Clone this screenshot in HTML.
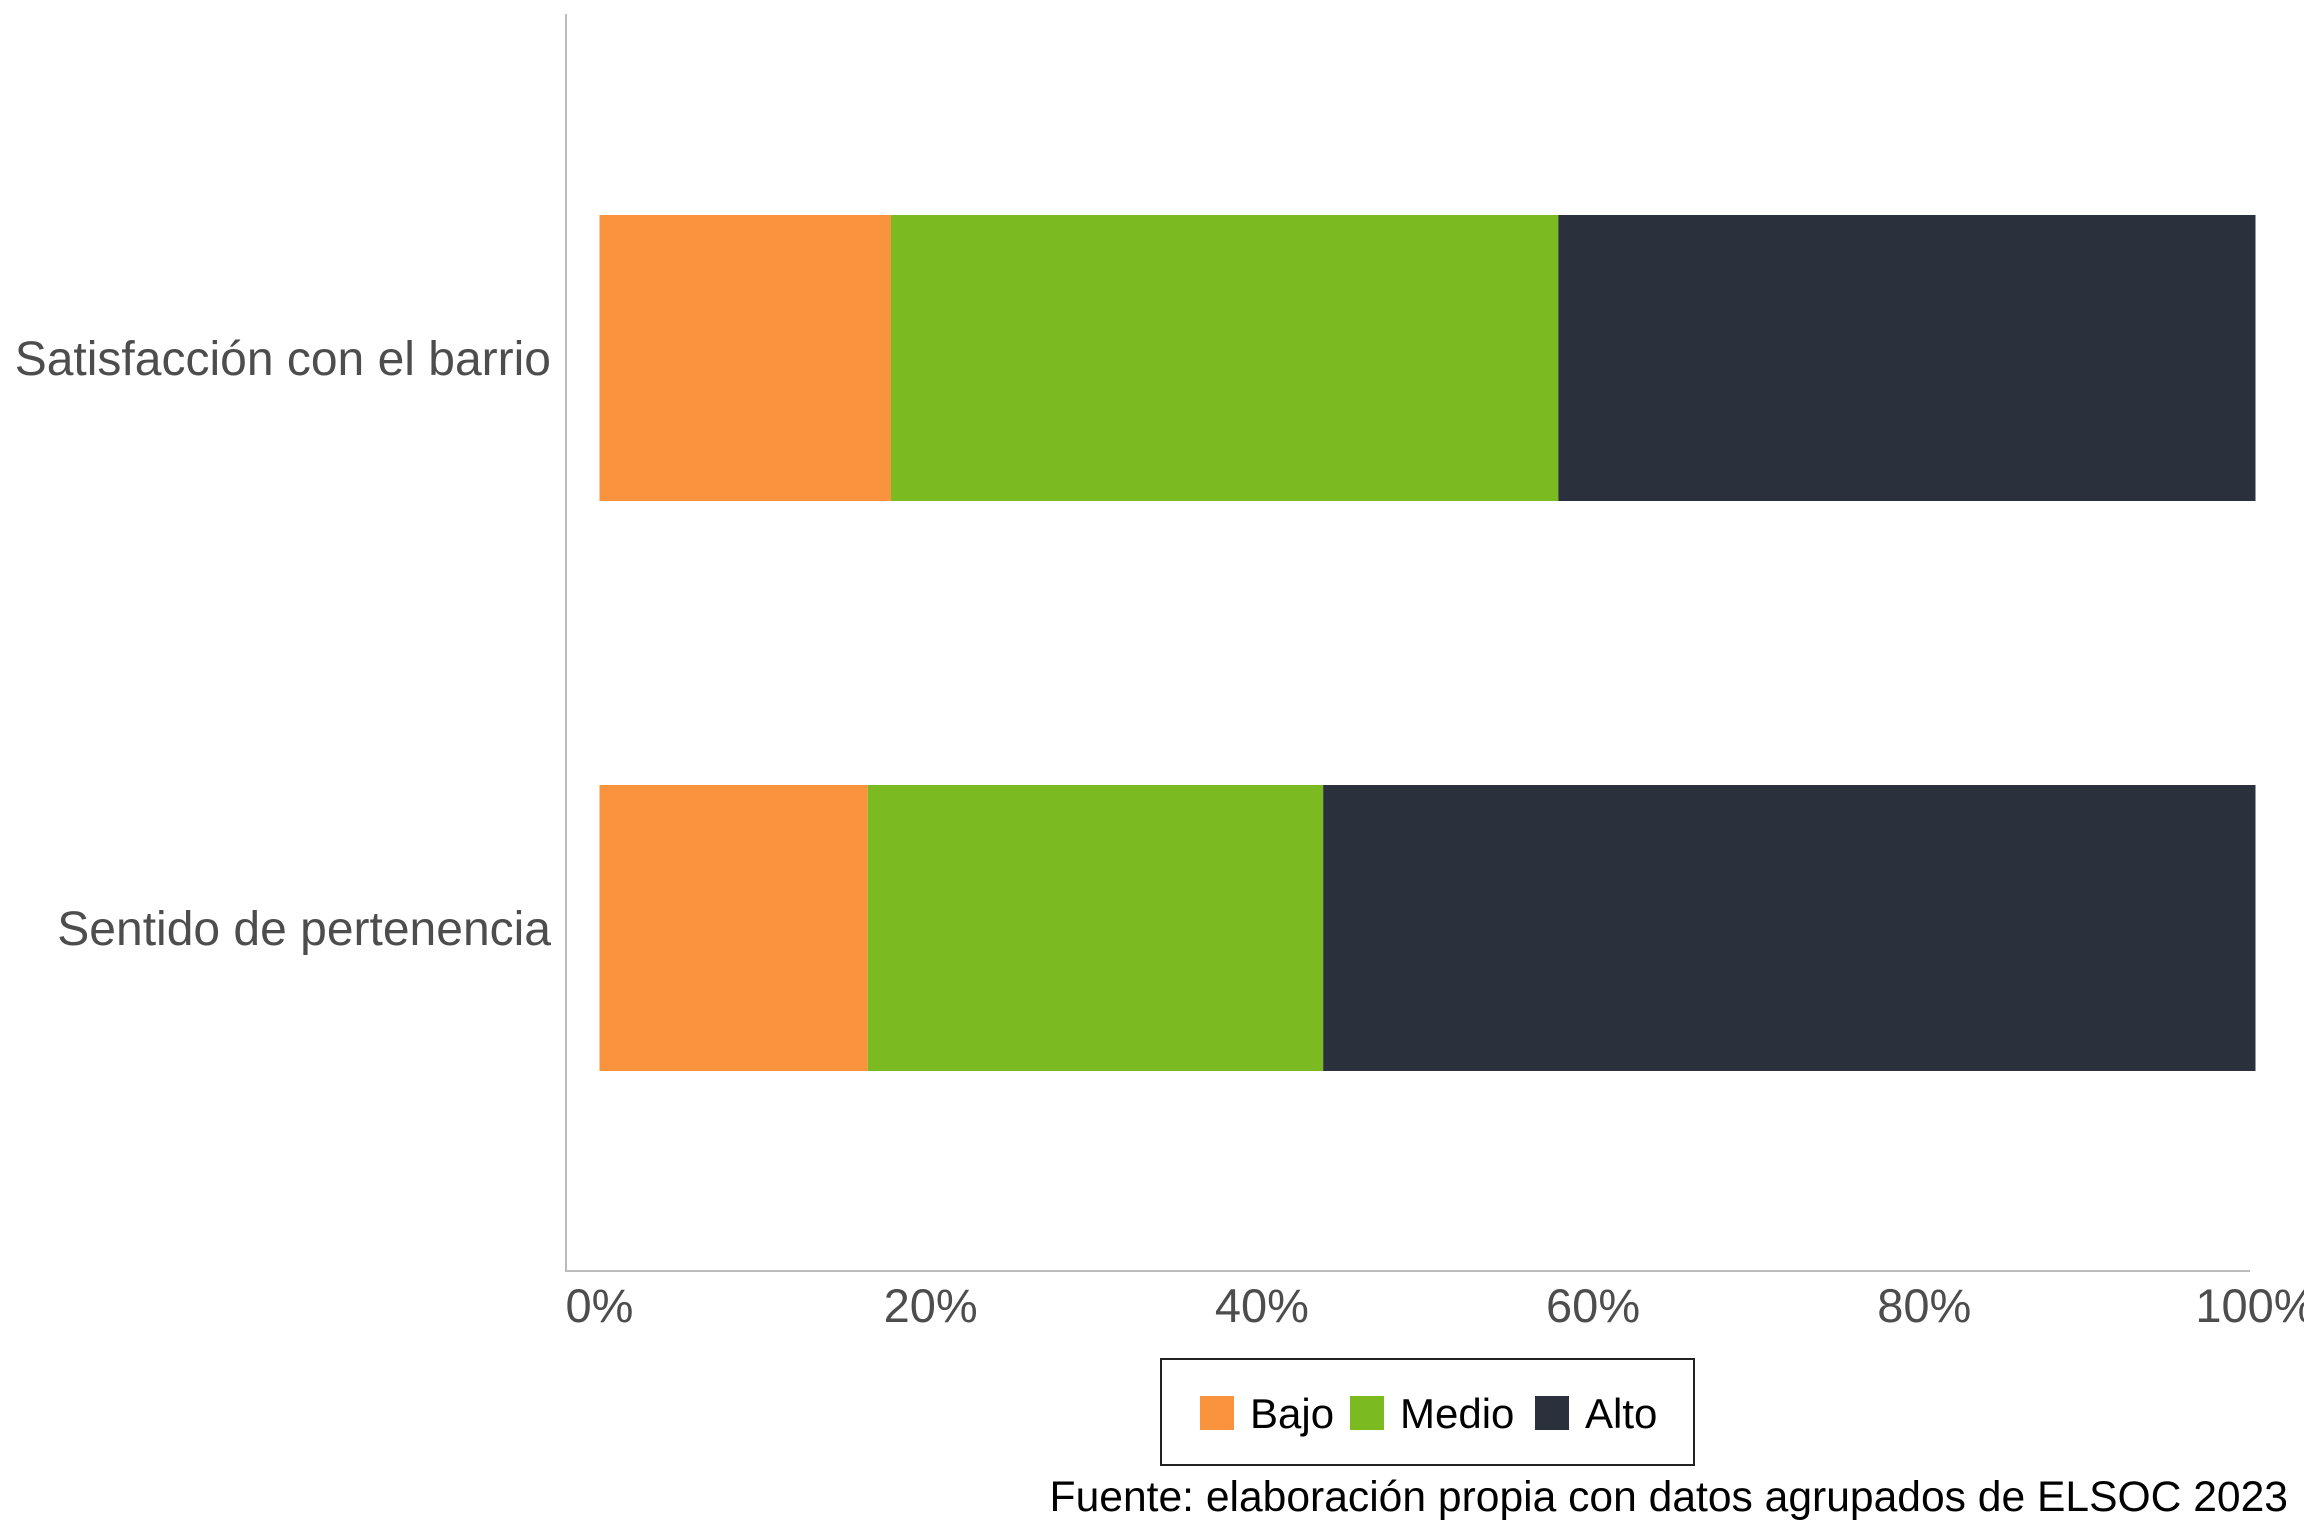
<!DOCTYPE html>
<html><head><meta charset="utf-8"><style>
body{margin:0;background:#fff;}
svg{display:block;font-family:"Liberation Sans",Arial,sans-serif;}
</style></head><body>
<svg id="chart" width="2304" height="1536" viewBox="0 0 2304 1536">
<g id="axes"></g><g id="bars"></g><g id="labels"></g>
<rect x="1161" y="1359" width="533" height="106" fill="#fff" stroke="#222" stroke-width="2"/>
<g id="legend"></g>
<text x="2288" y="1511" text-anchor="end" font-size="42.6" fill="#000">Fuente: elaboración propia con datos agrupados de ELSOC 2023</text>
</svg>
<script>
const categories=["Satisfacción con el barrio","Sentido de pertenencia"];
const seriesNames=["Bajo","Medio","Alto"];
const bajo=[17.6,16.2];
const medio=[40.3,27.5];
const alto=[42.1,56.3];
const tickValues=[0,20,40,60,80,100];
const tickLabels=["0%","20%","40%","60%","80%","100%"];
const colors=["#f9933e","#7bba21","#2b303d"];
const NS="http://www.w3.org/2000/svg";
const X0=599.5,X1=2255.5;
function xs(v){return X0+(X1-X0)*v/100;}
const bandCenters=[358,928],barH=286;
function ys(i){return bandCenters[i];}
function mk(tag,attrs,parent){const e=document.createElementNS(NS,tag);for(const k in attrs)e.setAttribute(k,attrs[k]);parent.appendChild(e);return e;}
const axes=document.getElementById('axes'),bars=document.getElementById('bars'),labels=document.getElementById('labels'),legend=document.getElementById('legend');
let l=mk('line',{x1:566,y1:14,x2:566,y2:1271,stroke:'#bbb','stroke-width':2},axes);


l=mk('line',{x1:565,y1:1271,x2:2250,y2:1271,stroke:'#bbb','stroke-width':2},axes);


tickValues.forEach((v,i)=>{
 const t=mk('text',{x:xs(v),y:1322,'text-anchor':'middle','font-size':47,fill:'#4d4d4d'},labels);
 t.textContent=tickLabels[i];
 
 
});
const series=[bajo,medio,alto];
categories.forEach((c,i)=>{
 const t=mk('text',{x:551,y:ys(i)+17,'text-anchor':'end','font-size':48,fill:'#4d4d4d'},labels);
 t.textContent=c;
 
 
 let cum=0;
 series.forEach((s,j)=>{
  const r=mk('rect',{x:xs(cum),y:ys(i)-barH/2,width:xs(cum+s[i])-xs(cum),height:barH,fill:colors[j]},bars);
  
  
  cum+=s[i];
 });
});
const swX=[1200,1350,1535];
seriesNames.forEach((n,j)=>{
 const r=mk('rect',{x:swX[j],y:1396,width:34,height:34,fill:colors[j]},legend);
 
 
 const t=mk('text',{x:swX[j]+50,y:1428,'font-size':42,fill:'#000'},legend);
 t.textContent=n;
 
 
});
</script>
</body></html>
